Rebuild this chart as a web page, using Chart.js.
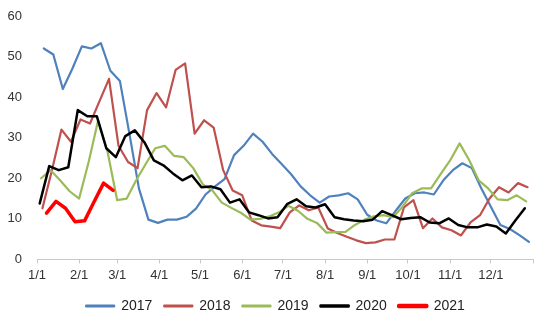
<!DOCTYPE html>
<html>
<head>
<meta charset="utf-8">
<script src="https://cdn.jsdelivr.net/npm/chart.js@4/dist/chart.umd.min.js"></script>
<style>
    body { margin: 0; background: #fff; }
    #wrap { width: 550px; height: 326px; position: relative; }
</style>
</head>
<body>
<div id="wrap"><canvas id="myChart"></canvas></div>
<script>
// month ticks (day of year) and their labels
const monthDays = [0, 31, 59, 90, 120, 151, 181, 212, 243, 273, 304, 334, 365];
const monthLabels = ['1/1', '2/1', '3/1', '4/1', '5/1', '6/1', '7/1', '8/1', '9/1', '10/1', '11/1', '12/1', ''];

const years = ['2017', '2018', '2019', '2020', '2021'];
// day of year of the first weekly reading (a Friday) in each year
const firstDay = [5, 4, 3, 2, 7];

const v2017 = [52, 50.5, 42, 47, 52.5, 52, 53.3, 46.5, 44, 31, 17.5, 9.8, 9, 9.8, 9.8, 10.5, 12.5, 16, 18, 19.8,
    25.7, 28, 31, 29, 26, 23.5, 21, 18, 15.8, 14, 15.5, 15.8, 16.3, 14.8, 11, 9.6, 8.9, 12, 15, 16.3,
    16.5, 16, 19.5, 22, 23.7, 22.5, 17.5, 13, 8.5, 7.5, 6, 4.3];
const v2018 = [12.6, 22, 32, 29, 34.5, 33.5, 39, 44.5, 28, 24, 22.5, 36.8, 41, 37.5, 46.7, 48.3, 31, 34.3, 32.5, 22,
    17, 15.8, 9.6, 8.4, 8.1, 7.7, 11.6, 13.3, 12.1, 12.8, 7.6, 6.5, 5.6, 4.7, 4.0, 4.2, 4.9, 4.9, 12.8, 14.6,
    7.7, 10.1, 7.9, 7.2, 5.9, 9.1, 10.9, 15, 17.8, 16.5, 18.8, 17.8];
const v2019 = [20, 22, 19.5, 16.8, 15, 24, 34.3, 26.4, 14.6, 15, 19.5, 23.5, 27.4, 28, 25.5, 25.2, 22.5, 18.5, 17, 14,
    12.7, 11.5, 9.8, 10, 10.6, 11.6, 13.2, 12, 10, 9, 6.6, 6.7, 6.8, 8.5, 9.8, 10.6, 10.9, 10.4, 13, 16.3,
    17.5, 17.5, 21, 24.4, 28.6, 24.5, 19.5, 17.5, 14.8, 14.6, 15.8, 14.3];
const v2020 = [13.8, 23, 22, 22.7, 36.8, 35.3, 35.3, 27.4, 25.2, 30.4, 31.8, 28.9, 24.4, 23.2, 21.2, 19.5, 20.7, 17.8, 18, 17.3,
    14, 14.8, 11.6, 10.9, 10.1, 10.4, 13.6, 14.8, 13.1, 12.8, 13.6, 10.4, 9.9, 9.6, 9.4, 9.8, 11.9, 10.9, 9.9, 10.2,
    10.4, 9.1, 8.9, 10.1, 8.5, 7.9, 7.9, 8.6, 8.1, 6.4, 9.6, 12.6];
const v2021 = [11.4, 14.3, 12.6, 9.3, 9.5, 14.2, 18.8, 17];

const seriesValues = [v2017, v2018, v2019, v2020, v2021];
const colors = ['#4F81BD', '#C0504D', '#9BBB59', '#000000', '#FF0000'];
const widths = [2.2, 2.2, 2.2, 2.5, 3.5];

const toPoints = (values, start) => values.map((v, i) => ({ x: start + 7 * i, y: v }));

Chart.defaults.font.family = "'Liberation Sans', Arial, sans-serif";
Chart.defaults.color = '#333';

// nudge the legend row so it sits centred on the whole canvas
const legendShift = {
    id: 'legendShift',
    afterLayout(chart) {
        if (chart.legend) {
            chart.legend.left += 9;
            chart.legend.right += 9;
        }
    }
};

const initChart = () => {
    const ctx = document.querySelector('#myChart');

    const datasets = years.map((year, i) => ({
        label: year,
        data: toPoints(seriesValues[i], firstDay[i]),
        borderColor: colors[i],
        backgroundColor: colors[i],
        borderWidth: widths[i],
        borderJoinStyle: 'round',
        borderCapStyle: 'round',
        pointRadius: 0,
        tension: 0,
        fill: false,
        order: years.length - i,
    }));

    new Chart(ctx, {
        type: 'line',
        data: { datasets },
        options: {
            responsive: true,
            maintainAspectRatio: false,
            animation: false,
            layout: {
                padding: { top: 16, right: 17, bottom: 3, left: 0 }
            },
            scales: {
                x: {
                    type: 'linear',
                    min: 0,
                    max: 365,
                    bounds: 'data',
                    afterBuildTicks: (scale) => {
                        scale.ticks = monthDays.map(v => ({ value: v }));
                    },
                    ticks: {
                        autoSkip: false,
                        maxRotation: 0,
                        minRotation: 0,
                        padding: 4,
                        color: '#333',
                        font: { size: 13 },
                        callback: (value, index) => monthLabels[index] ?? '',
                    },
                    grid: {
                        display: true,
                        drawOnChartArea: false,
                        drawTicks: true,
                        tickLength: 4,
                        color: '#c8c8c8',
                    },
                    border: { display: true, color: '#c8c8c8' },
                },
                y: {
                    min: 0,
                    max: 60,
                    afterFit: (scale) => {
                        scale.width = 37;
                    },
                    ticks: {
                        stepSize: 10,
                        padding: 7,
                        color: '#333',
                        font: { size: 13 },
                    },
                    grid: { display: false },
                    border: { display: false },
                }
            },
            plugins: {
                legend: {
                    display: true,
                    position: 'bottom',
                    labels: {
                        boxWidth: 28,
                        boxHeight: 1,
                        padding: 12,
                        color: '#222',
                        font: { size: 14 },
                        sort: (a, b) => a.datasetIndex - b.datasetIndex,
                    }
                },
                tooltip: { enabled: false }
            }
        },
        plugins: [legendShift]
    });
};
initChart();
</script>
</body>
</html>
